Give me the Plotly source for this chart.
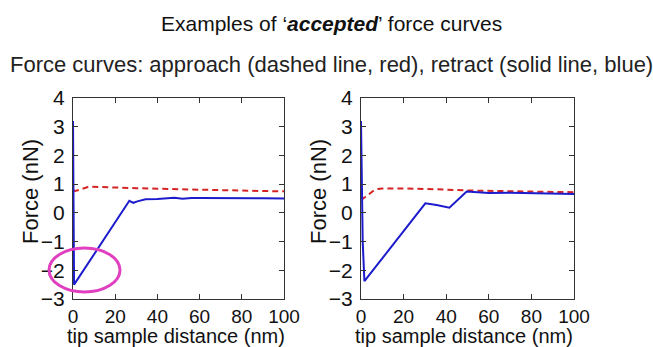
import plotly.graph_objects as go
from plotly.subplots import make_subplots

# ---- data ----
x_ticks = [0, 20, 40, 60, 80, 100]
y_ticks = [-3, -2, -1, 0, 1, 2, 3, 4]
x_title = "tip sample distance (nm)"
y_title = "Force (nN)"

approach_x_left = [0, 1, 3, 5, 7, 9, 12, 20, 30, 40, 50, 60, 70, 80, 90, 100]
approach_y_left = [0.78, 0.76, 0.80, 0.86, 0.90, 0.91, 0.90, 0.89, 0.86, 0.84, 0.82, 0.80, 0.78, 0.77, 0.76, 0.75]
retract_x_left = [0, 0.5, 26.7, 28.6, 30.5, 34.4, 40, 44, 48, 52, 56, 60, 70, 80, 86, 90, 100]
retract_y_left = [3.2, -2.5, 0.42, 0.35, 0.40, 0.47, 0.48, 0.50, 0.53, 0.49, 0.52, 0.52, 0.52, 0.51, 0.53, 0.51, 0.50]

approach_x_right = [0, 1, 2, 4, 6, 8, 10, 20, 30, 40, 50, 60, 70, 80, 90, 100]
approach_y_right = [0.56, 0.50, 0.55, 0.68, 0.78, 0.83, 0.85, 0.85, 0.84, 0.81, 0.78, 0.76, 0.75, 0.74, 0.73, 0.72]
retract_x_right = [0, 0.3, 0.8, 1.6, 30.2, 35.5, 41.5, 49.6, 55, 60, 70, 80, 90, 100]
retract_y_right = [3.2, 1.2, -1.0, -2.38, 0.33, 0.27, 0.18, 0.74, 0.71, 0.69, 0.70, 0.68, 0.67, 0.66]

BLUE = "#1c1ccc"
RED = "#d42424"
FONT = "Liberation Sans, Arial, sans-serif"

# layout geometry in pixels (figure 653x347)
L, R, T, B = 73, 574, 98, 299


def px_x(p):
    return (p - L) / (R - L)


def px_y(p):
    return (B - p) / (B - T)


fig = make_subplots(rows=1, cols=2, horizontal_spacing=0.1537)

for col, (ax, ay, rx, ry) in enumerate([
        (approach_x_left, approach_y_left, retract_x_left, retract_y_left),
        (approach_x_right, approach_y_right, retract_x_right, retract_y_right)], start=1):
    fig.add_trace(go.Scatter(x=ax, y=ay, mode="lines", name="approach",
                             line=dict(color=RED, width=2, dash="6px,4px"),
                             showlegend=False), row=1, col=col)
    fig.add_trace(go.Scatter(x=rx, y=ry, mode="lines", name="retract",
                             line=dict(color=BLUE, width=2),
                             showlegend=False), row=1, col=col)

axis_common = dict(showline=True, linecolor="#333333", linewidth=1, mirror="ticks",
                   ticks="inside", ticklen=5, tickcolor="#333333", showgrid=False,
                   zeroline=False, automargin=False)

for col in (1, 2):
    fig.update_xaxes(range=[0, 100], tickvals=x_ticks, **axis_common,
                     tickfont=dict(family=FONT, size=19, color="#111111"),
                     ticklabelstandoff=0, row=1, col=col)
    fig.update_yaxes(range=[-3, 4], tickvals=y_ticks, **axis_common,
                     tickfont=dict(family=FONT, size=21, color="#111111"),
                     ticklabelstandoff=3, row=1, col=col)

fig.update_xaxes(domain=[0, px_x(284)], row=1, col=1)
fig.update_xaxes(domain=[px_x(361), 1], row=1, col=2)

# axis titles (one per panel)
for left_px in (L, 361):
    right_px = left_px + (284 - L)
    fig.add_annotation(text=x_title, xref="paper", yref="paper",
                       x=px_x((left_px + right_px) / 2 - 3), y=px_y(335.5),
                       showarrow=False, xanchor="center", yanchor="middle",
                       font=dict(family=FONT, size=20, color="#111111"))
    fig.add_annotation(text=y_title, xref="paper", yref="paper", textangle=-90,
                       x=px_x(left_px - 43), y=px_y(192),
                       showarrow=False, xanchor="center", yanchor="middle",
                       font=dict(family=FONT, size=22, color="#111111"))

# pink highlight ellipse (paper coords)
fig.add_shape(type="circle", xref="paper", yref="paper",
              x0=px_x(49), x1=px_x(120), y0=px_y(292), y1=px_y(248),
              line=dict(color="#e040c0", width=3))

fig.add_annotation(text="Examples of ‘<b><i>accepted</i></b>’ force curves",
                   xref="paper", yref="paper", x=px_x(331), y=px_y(24),
                   showarrow=False, xanchor="center", yanchor="middle",
                   font=dict(family=FONT, size=21, color="#111111"))
fig.add_annotation(text="Force curves: approach (dashed line, red), retract (solid line, blue)",
                   xref="paper", yref="paper", x=px_x(331), y=px_y(64),
                   showarrow=False, xanchor="center", yanchor="middle",
                   font=dict(family=FONT, size=22, color="#222222"))

fig.update_layout(width=653, height=347, margin=dict(l=L, r=653 - R, t=T, b=347 - B),
                  paper_bgcolor="white", plot_bgcolor="white", showlegend=False)

fig.write_html("out.html")
